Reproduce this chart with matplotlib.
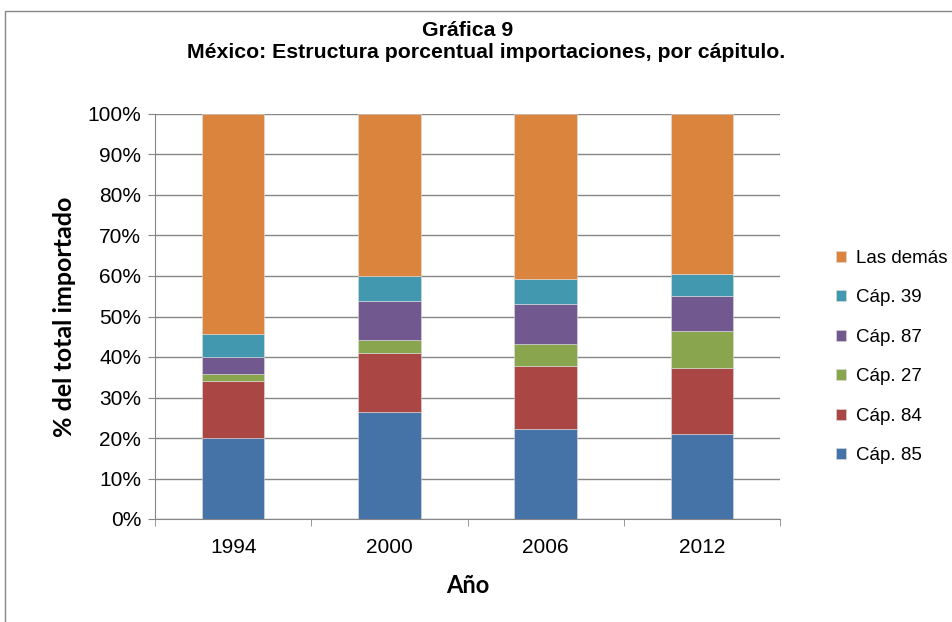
import numpy as np
import matplotlib
matplotlib.use('Agg')
import matplotlib.pyplot as plt
from matplotlib.patches import Rectangle
from matplotlib.ticker import MultipleLocator, FuncFormatter

plt.rcParams['font.family'] = ['Liberation Sans', 'DejaVu Sans']

years = ['1994', '2000', '2006', '2012']
series = ['Cáp. 85', 'Cáp. 84', 'Cáp. 27', 'Cáp. 87', 'Cáp. 39', 'Las demás']
cap85 = [19.9, 26.5, 22.1, 21.0]
cap84 = [14.2, 14.5, 15.6, 16.3]
cap27 = [1.8, 3.1, 5.6, 9.0]
cap87 = [4.2, 9.7, 9.7, 8.8]
cap39 = [5.5, 6.1, 6.3, 5.3]
demas = [54.4, 40.1, 40.7, 39.6]
colors = ['#4572A7', '#AA4643', '#89A54E', '#71588F', '#4198AF', '#DB843D']

values = [cap85, cap84, cap27, cap87, cap39, demas]

fig = plt.figure(figsize=(9.52, 6.22), dpi=100)
# outer chart border
fig.patches.append(Rectangle((5 / 952, -0.1), 1.0, 1 - 11 / 622 + 0.1,
                             transform=fig.transFigure, fill=False,
                             edgecolor='#868686', linewidth=1.0))

ax = fig.add_axes([155 / 952, 1 - 519 / 622, 625 / 952, 405 / 622])
x = np.arange(len(years))
bottom = np.zeros(len(years))
handles = []
for name, vals, c in zip(series, values, colors):
    v = np.array(vals)
    h = ax.bar(x, v, 0.4, bottom=bottom, color=c, edgecolor='#dddddd',
               linewidth=0.4, label=name, zorder=3)
    handles.append(h)
    bottom += v

ax.set_xlim(-0.5, 3.5)
ax.set_ylim(0, 100)
ax.yaxis.set_major_locator(MultipleLocator(10))
ax.yaxis.set_major_formatter(FuncFormatter(lambda v, p: '%d%%' % v))
ax.grid(axis='y', color='#868686', linewidth=1.0, zorder=0)
ax.set_xticks(x)
ax.set_xticklabels(years)
ax.set_xticks(np.arange(-0.5, 4, 1), minor=True)
ax.tick_params(axis='x', which='major', length=0, labelsize=15, pad=14)
ax.tick_params(axis='x', which='minor', length=5, direction='out', color='#868686')
ax.tick_params(axis='y', length=5, direction='out', color='#868686', labelsize=15, pad=5)
for s in ['top', 'right']:
    ax.spines[s].set_visible(False)
for s in ['left', 'bottom']:
    ax.spines[s].set_color('#868686')

ax.set_xlabel('Año', fontsize=17, fontweight='bold', family=['Lato', 'DejaVu Sans'], labelpad=12)
ax.set_ylabel('% del total importado', fontsize=18, fontweight='bold',
              family=['Lato', 'DejaVu Sans'], labelpad=8)

fig.text(467.5 / 952, 1 - 30 / 622, 'Gráfica 9', ha='center', va='center',
         fontsize=15.3, fontweight='bold')
fig.text(486.5 / 952, 1 - 52 / 622, 'México: Estructura porcentual importaciones, por cápitulo.',
         ha='center', va='center', fontsize=15.3, fontweight='bold')

leg = fig.legend(handles[::-1], series[::-1], loc='center left',
                 bbox_to_anchor=(836 / 952, 1 - 357 / 622), frameon=False,
                 fontsize=13.5, handlelength=0.54, handleheight=0.54,
                 labelspacing=1.2, handletextpad=0.5,
                 borderpad=0, borderaxespad=0)

fig.savefig('out.png', dpi=100)
